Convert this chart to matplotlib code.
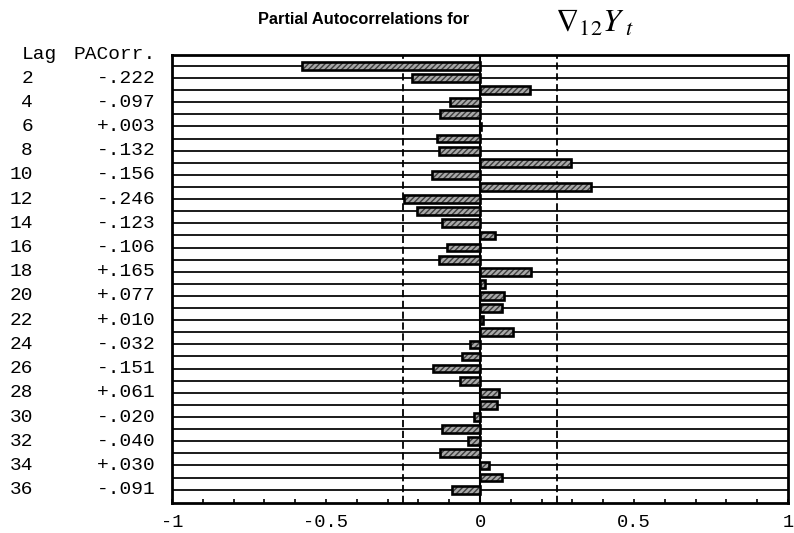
import matplotlib
matplotlib.use("Agg")
import matplotlib.pyplot as plt
import matplotlib.transforms as mtransforms

# Partial autocorrelations of the seasonally differenced series, lags 1..36
lags = list(range(1, 37))
pacf = [-0.579, -0.222, 0.161, -0.097, -0.131, 0.003, -0.140, -0.132, 0.294,
        -0.156, 0.360, -0.246, -0.206, -0.123, 0.050, -0.106, -0.133, 0.165,
        0.016, 0.077, 0.072, 0.010, 0.107, -0.032, -0.057, -0.151, -0.066,
        0.061, 0.056, -0.020, -0.125, -0.040, -0.131, 0.030, 0.070, -0.091]
limit = 0.25
xticks = [-1, -0.5, 0, 0.5, 1]
xtick_labels = ["-1", "-0.5", "0", "0.5", "1"]

mono = "Liberation Mono"
plt.rcParams["mathtext.fontset"] = "stix"

fig = plt.figure(figsize=(7.94, 5.33), dpi=100)
ax = fig.add_axes([172 / 794, 30 / 533, 616 / 794, 448 / 533])

# row lines, one per lag
for lag in lags:
    ax.axhline(lag, color="#1a1a1a", lw=1.4, zorder=1)

# reference lines
ax.axvline(0, color="black", lw=1.5, zorder=2)
for s in (-limit, limit):
    ax.axvline(s, color="black", lw=1.3, ls=(0, (4, 2)), zorder=2)

# bars: hatched gray fill with black outline
ax.barh(lags, pacf, height=0.64, color="#a8a8a8", hatch="//////",
        edgecolor="#3c3c3c", lw=0, zorder=3)
ax.barh(lags, pacf, height=0.64, color="none", edgecolor="black",
        lw=1.9, zorder=4)

ax.set_xlim(-1, 1)
ax.set_ylim(37.1, 0.1)
ax.set_yticks([])
ax.set_xticks(xticks)
ax.set_xticklabels(xtick_labels, fontfamily=mono, fontsize=13.5)
ax.set_xticks([x / 10 for x in range(-10, 11)], minor=True)
ax.tick_params(axis="x", which="both", direction="in", length=3, width=1.2,
               pad=8, top=False)
for sp in ax.spines.values():
    sp.set_linewidth(2)
    sp.set_color("black")

# lag / value table on the left
trans = mtransforms.blended_transform_factory(fig.transFigure, ax.transData)
ax.text(22 / 794, 0.1, "Lag", transform=trans, fontfamily=mono, fontsize=14,
        ha="left", va="center")
ax.text(156 / 794, 0.1, "PACorr.", transform=trans, fontfamily=mono,
        fontsize=14, ha="right", va="center")
for lag, v in zip(lags, pacf):
    if lag % 2 == 0:
        ax.text(33 / 794, lag, str(lag), transform=trans, fontfamily=mono,
                fontsize=14, ha="right", va="center")
        ax.text(156 / 794, lag, f"{v:+.3f}".replace("0.", ".", 1),
                transform=trans, fontfamily=mono, fontsize=14,
                ha="right", va="center")

# title
fig.text(258 / 794, 1 - 20 / 533, "Partial Autocorrelations for",
         fontfamily="Liberation Sans", fontweight="bold", fontsize=11.8,
         ha="left", va="center")
fig.text(555 / 794, 1 - 23 / 533, r"$\nabla_{12}Y_{\ t}$", fontsize=23,
         ha="left", va="center")

fig.savefig("out.png", dpi=100)
